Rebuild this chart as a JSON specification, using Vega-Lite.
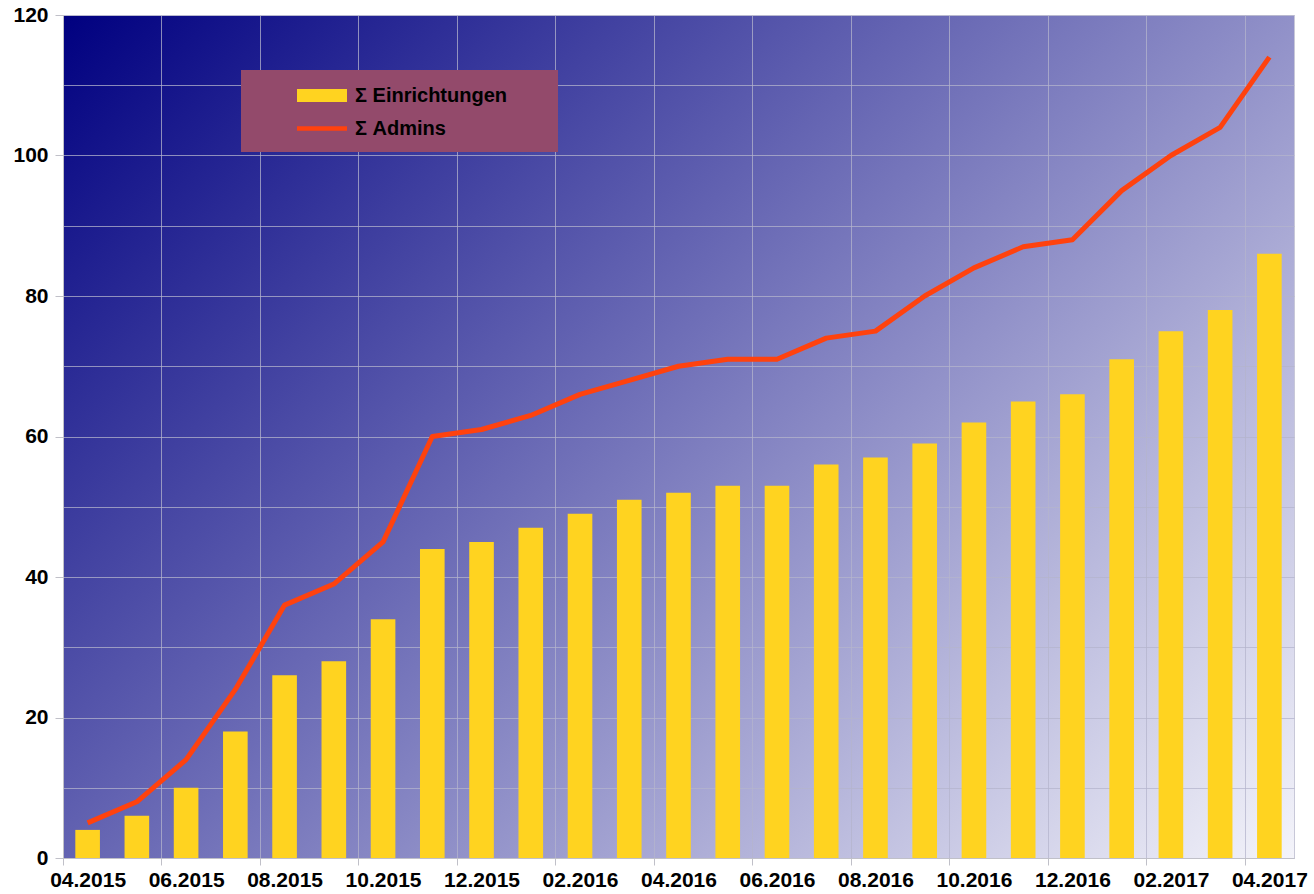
{
  "$schema": "https://vega.github.io/schema/vega-lite/v6.json",
  "width": 1231,
  "height": 843,
  "autosize": "none",
  "padding": {"left": 63, "top": 15, "right": 20, "bottom": 36},
  "background": "white",
  "config": {
    "font": "Liberation Sans",
    "view": {
      "fill": {
        "gradient": "linear",
        "x1": 0, "y1": 0, "x2": 1.147, "y2": 0.787,
        "stops": [
          {"offset": 0, "color": "#000080"},
          {"offset": 1, "color": "#f4f4fa"}
        ]
      },
      "stroke": "#c8c8d8",
      "strokeWidth": 1
    },
    "axis": {
      "gridColor": "#b4b4cc",
      "gridOpacity": 0.75,
      "gridWidth": 1,
      "domainColor": "#c0c0c8",
      "tickColor": "#c0c0c8",
      "labelColor": "#000000",
      "labelFont": "Liberation Sans",
      "labelFontSize": 21,
      "labelFontWeight": "bold",
      "title": null
    }
  },
  "data": {
    "values": [
      {"Monat": "04.2015", "Einrichtungen": 4, "Admins": 5},
      {"Monat": "05.2015", "Einrichtungen": 6, "Admins": 8},
      {"Monat": "06.2015", "Einrichtungen": 10, "Admins": 14},
      {"Monat": "07.2015", "Einrichtungen": 18, "Admins": 24},
      {"Monat": "08.2015", "Einrichtungen": 26, "Admins": 36},
      {"Monat": "09.2015", "Einrichtungen": 28, "Admins": 39},
      {"Monat": "10.2015", "Einrichtungen": 34, "Admins": 45},
      {"Monat": "11.2015", "Einrichtungen": 44, "Admins": 60},
      {"Monat": "12.2015", "Einrichtungen": 45, "Admins": 61},
      {"Monat": "01.2016", "Einrichtungen": 47, "Admins": 63},
      {"Monat": "02.2016", "Einrichtungen": 49, "Admins": 66},
      {"Monat": "03.2016", "Einrichtungen": 51, "Admins": 68},
      {"Monat": "04.2016", "Einrichtungen": 52, "Admins": 70},
      {"Monat": "05.2016", "Einrichtungen": 53, "Admins": 71},
      {"Monat": "06.2016", "Einrichtungen": 53, "Admins": 71},
      {"Monat": "07.2016", "Einrichtungen": 56, "Admins": 74},
      {"Monat": "08.2016", "Einrichtungen": 57, "Admins": 75},
      {"Monat": "09.2016", "Einrichtungen": 59, "Admins": 80},
      {"Monat": "10.2016", "Einrichtungen": 62, "Admins": 84},
      {"Monat": "11.2016", "Einrichtungen": 65, "Admins": 87},
      {"Monat": "12.2016", "Einrichtungen": 66, "Admins": 88},
      {"Monat": "01.2017", "Einrichtungen": 71, "Admins": 95},
      {"Monat": "02.2017", "Einrichtungen": 75, "Admins": 100},
      {"Monat": "03.2017", "Einrichtungen": 78, "Admins": 104},
      {"Monat": "04.2017", "Einrichtungen": 86, "Admins": 114}
    ]
  },
  "encoding": {
    "x": {
      "field": "Monat",
      "type": "ordinal",
      "sort": null,
      "scale": {"paddingInner": 0, "paddingOuter": 0},
      "axis": {
        "values": ["04.2015", "06.2015", "08.2015", "10.2015", "12.2015", "02.2016", "04.2016", "06.2016", "08.2016", "10.2016", "12.2016", "02.2017", "04.2017"],
        "labelAngle": 0,
        "tickOffset": -24.62,
        "labelOffset": 24.62,
        "grid": true,
        "tickSize": 7,
        "labelPadding": 4
      }
    }
  },
  "layer": [
    {
      "mark": {"type": "bar", "width": {"band": 0.5}},
      "encoding": {
        "y": {
          "field": "Einrichtungen",
          "type": "quantitative",
          "scale": {"domain": [0, 120], "nice": false},
          "axis": {
            "values": [0, 10, 20, 30, 40, 50, 60, 70, 80, 90, 100, 110, 120],
            "labelExpr": "datum.value % 20 === 0 ? datum.label : ''",
            "tickColor": {"condition": {"test": "datum.value % 20 === 0", "value": "#c0c0c8"}, "value": "transparent"},
            "grid": true,
            "tickSize": 8,
            "labelPadding": 7
          }
        },
        "color": {
          "datum": "Σ Einrichtungen",
          "type": "nominal",
          "scale": {"domain": ["Σ Einrichtungen", "Σ Admins"], "range": ["#ffd320", "#ff420e"]},
          "legend": {
            "orient": "none",
            "legendX": 178,
            "legendY": 55,
            "title": "\u00a0",
            "titleOrient": "right",
            "titleFontSize": 8,
            "titlePadding": 38,
            "fillColor": "#934a6b",
            "padding": 13,
            "symbolOffset": 43,
            "labelFont": "Liberation Sans",
            "labelFontSize": 20,
            "labelFontWeight": "bold",
            "labelColor": "#000000",
            "labelOffset": 33,
            "symbolSize": 625,
            "symbolStrokeWidth": 0,
            "symbolType": "M-1,-0.52H3V0.52H-1Z",
            "rowPadding": 10,
            "encode": {
              "symbols": {
                "update": {
                  "shape": {"signal": "datum.value === 'Σ Admins' ? 'M-1,-0.18H3V0.18H-1Z' : 'M-1,-0.52H3V0.52H-1Z'"},
                  "fill": {"signal": "datum.value === 'Σ Admins' ? '#ff420e' : '#ffd320'"},
                  "strokeWidth": {"value": 0},
                  "opacity": {"value": 1}
                }
              }
            }
          }
        }
      }
    },
    {
      "mark": {"type": "line", "strokeWidth": 5, "strokeJoin": "round"},
      "encoding": {
        "y": {"field": "Admins", "type": "quantitative"},
        "color": {"datum": "Σ Admins", "type": "nominal"}
      }
    }
  ]
}
